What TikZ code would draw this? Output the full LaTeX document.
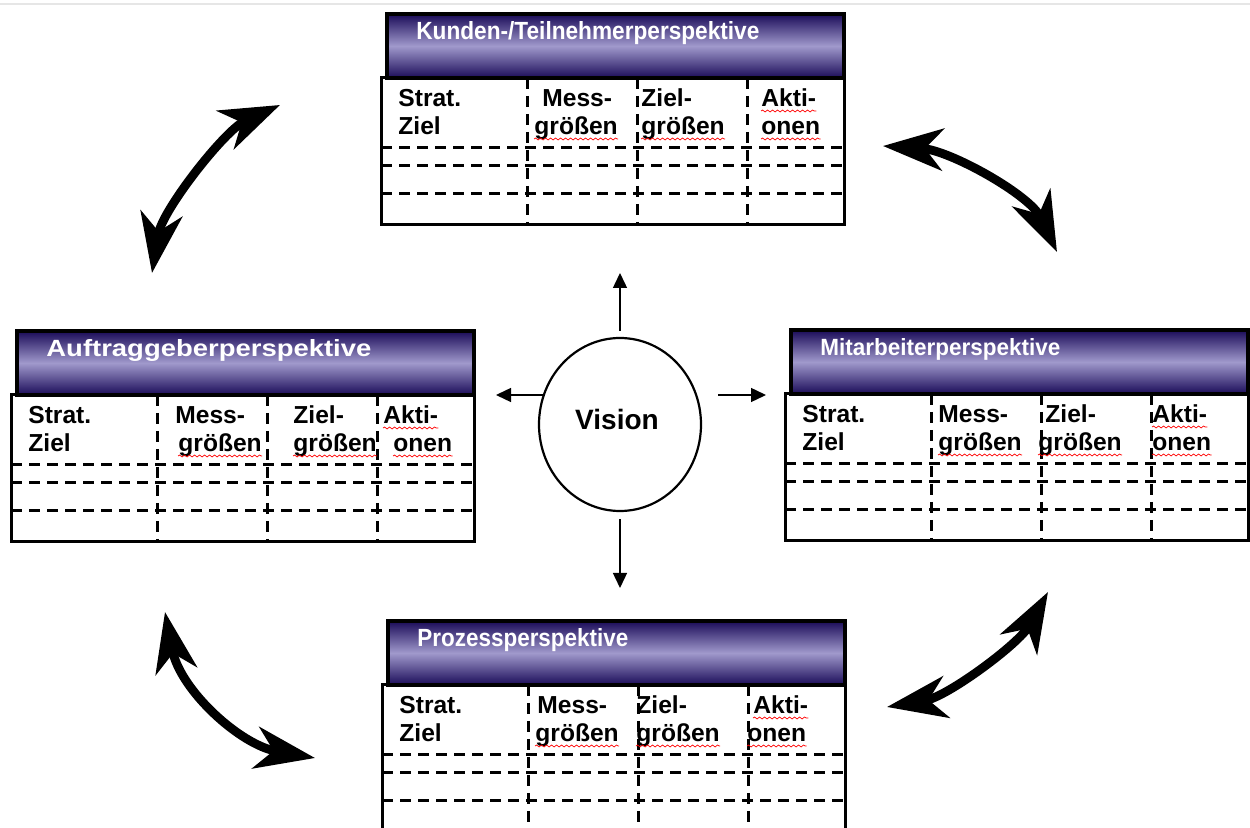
\documentclass[tikz,border=0pt]{standalone}
\usepackage{fontspec}
\setmainfont{Liberation Sans}
\usetikzlibrary{arrows.meta,shapes.geometric,decorations.pathmorphing}
\definecolor{hdark}{HTML}{1A0B58}
\definecolor{hlight}{HTML}{A099CC}
\definecolor{topline}{HTML}{E6E6E6}
\tikzset{
  tblborder/.style={line width=1.5pt},
  hdrborder/.style={line width=1.6pt},
  dashln/.style={line width=1.5pt, dash pattern=on 5.5pt off 3.5pt},
  celltxt/.style={anchor=base west, inner sep=0pt, font=\fontsize{12.3}{14}\selectfont\bfseries},
  hdrtxt/.style={anchor=base west, inner sep=0pt, text=white, font=\bfseries},
  spell/.style={draw=red, line width=0.35pt, decorate, decoration={snake, amplitude=0.5pt, segment length=2.5pt}},
  bigarrow/.style={line width=4.4pt, line cap=butt, {Stealth[length=30pt,width=21pt,inset=9pt]}-{Stealth[length=30pt,width=21pt,inset=9pt]}},
  smallarrow/.style={line width=0.7pt, -{Triangle[length=7.5pt,width=7pt]}},
  vis/.style={ellipse, draw, line width=1.1pt, minimum width=81pt, minimum height=86.5pt, inner sep=0pt},
  vistxt/.style={inner sep=0pt, font=\fontsize{14}{16}\selectfont\bfseries}
}
% #1 prefix, #2 header text, #3 Mess x, #4 groessen1 x, #5 Ziel x, #6 groessen2 x, #7 Akti x, #8 onen x
\newcommand\bscbox[8]{%
  \fill[white] (0,0) rectangle (463,147);
  \shade[top color=hdark, bottom color=hdark, middle color=hlight] (6,-64) rectangle (463,0);
  \draw[hdrborder] (6,-64) rectangle (463,0);
  \node[hdrtxt] (#1h) at (35,-38) {#2};
  \foreach \yy in {70,88,116} {\draw[dashln] (0,\yy) -- (463,\yy);}
  \foreach \xx in {146,256,366} {\draw[dashln] (\xx,0) -- (\xx,147);}
  \draw[tblborder] (0,0) rectangle (463,147);
  \node[celltxt] (#1a) at (17,29) {Strat.};
  \node[celltxt] (#1b) at (17,57) {Ziel};
  \node[celltxt] (#1c) at (#3,29) {Mess-};
  \node[celltxt] (#1d) at (#4,57) {größen};
  \node[celltxt] (#1e) at (#5,29) {Ziel-};
  \node[celltxt] (#1f) at (#6,57) {größen};
  \node[celltxt] (#1g) at (#7,29) {Akti-};
  \node[celltxt] (#1k) at (#8,57) {onen};
  \foreach \n in {d,f,g,k} {\draw[spell] ([yshift=-2pt]#1\n.base west) -- ([yshift=-2pt]#1\n.base east);}
}
\begin{document}
\begin{tikzpicture}[x=0.5pt,y=-0.5pt]
\clip (0,0) rectangle (1250,828);
\fill[white] (0,0) rectangle (1250,828);
\draw[topline, line width=1pt] (0,4) -- (1250,4);

% top box
\begin{scope}[shift={(381,78)}]
  \bscbox{t}{\resizebox{171.5pt}{9pt}{Kunden-/Teilnehmerperspektive}}{161}{153}{260}{260}{380}{380}
\end{scope}
% left box
\begin{scope}[shift={(11,395)}]
  \bscbox{l}{\resizebox{162.5pt}{8.5pt}{Auftraggeberperspektive}}{164}{167}{282}{282}{372}{382}
\end{scope}
% right box
\begin{scope}[shift={(785,394)}]
  \bscbox{r}{\resizebox{120pt}{8.5pt}{Mitarbeiterperspektive}}{153}{153}{260}{253}{367}{367}
\end{scope}
% bottom box
\begin{scope}[shift={(382,685)}]
  \bscbox{b}{\resizebox{105.5pt}{9pt}{Prozessperspektive}}{155}{153}{254}{254}{371}{365}
\end{scope}

% vision
\node[vis] (vision) at (620,424.5) {};
\node[vistxt] (visiontxt) at (617,419) {Vision};
\coordinate (upend) at (620,273);
\coordinate (leftend) at (496,395);
\coordinate (rightend) at (766,395);
\coordinate (downend) at (620,588);
\draw[smallarrow] ([yshift=3pt]vision.north) -- (upend);
\draw[smallarrow] (vision.158.8 |- leftend) -- (leftend);
\draw[smallarrow] ([xshift=10.5pt]vision.21.2 |- rightend) -- (rightend);
\draw[smallarrow] ([yshift=-3.5pt]vision.south) -- (downend);

% big curved double arrows
\coordinate (a1s) at (152,273); \coordinate (a1e) at (280,105);
\coordinate (a2s) at (883,146); \coordinate (a2e) at (1057,252);
\coordinate (a3s) at (887,707); \coordinate (a3e) at (1048,592);
\coordinate (a4s) at (165,612); \coordinate (a4e) at (315,758);
\draw[bigarrow] (a1s) .. controls (162,210) and (225,130) .. (a1e);
\draw[bigarrow] (a2s) .. controls (950,150) and (1030,195) .. (a2e);
\draw[bigarrow] (a3s) .. controls (947,697) and (1019,644) .. (a3e);
\draw[bigarrow] (a4s) .. controls (180,690) and (240,745) .. (a4e);
\end{tikzpicture}
\end{document}
